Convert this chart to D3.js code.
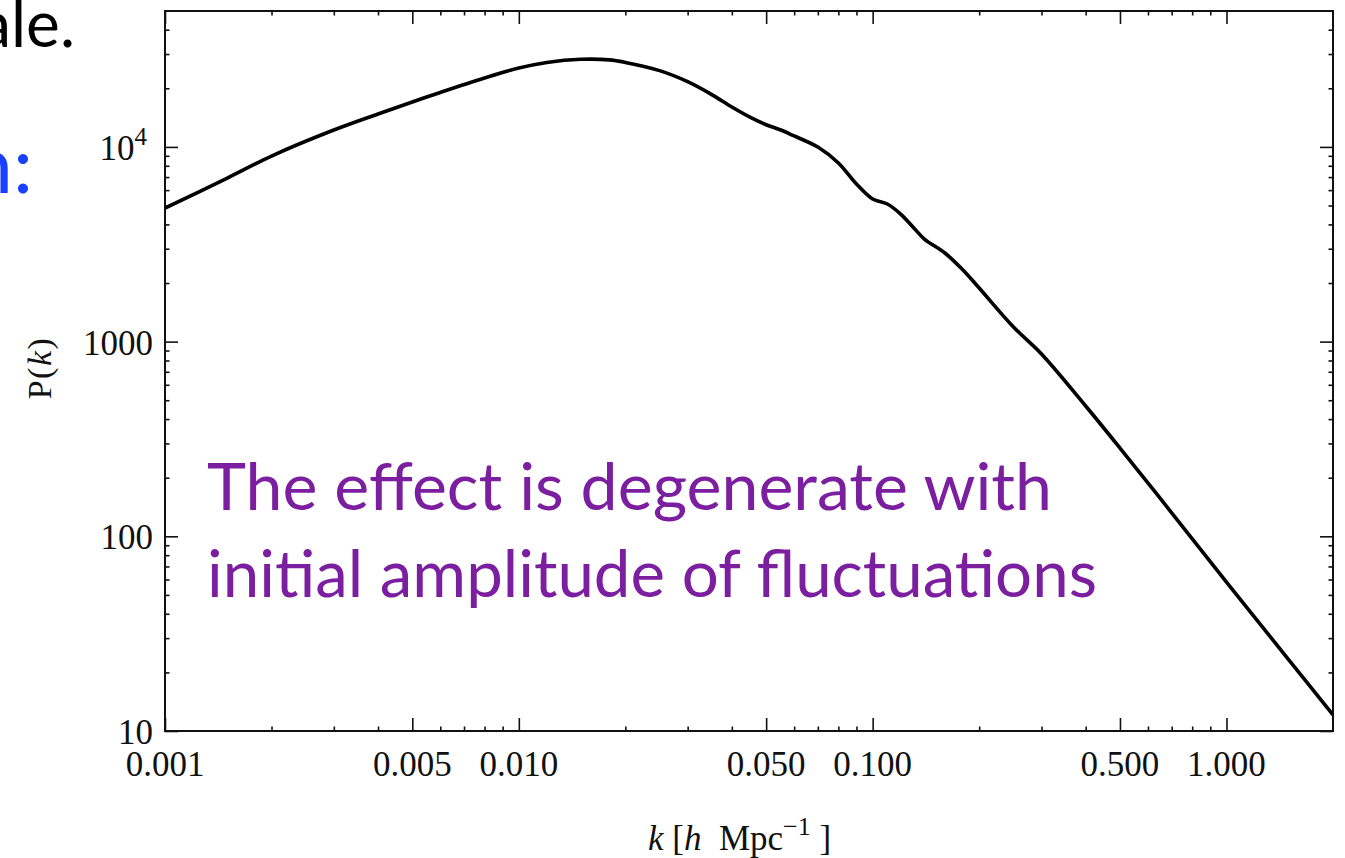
<!DOCTYPE html>
<html>
<head>
<meta charset="utf-8">
<script src="https://cdn.jsdelivr.net/npm/d3@7"></script>
<style>
  html, body { margin: 0; padding: 0; background: #fff; }
  svg { display: block; }
  text { white-space: pre; }
</style>
</head>
<body>
<svg id="chart" width="1345" height="858"></svg>
<script>
// Linear matter power spectrum P(k)
const kValues = [0.001, 0.0015, 0.002, 0.003, 0.004, 0.005, 0.006, 0.008, 0.01, 0.012,
  0.015, 0.018, 0.02, 0.025, 0.03, 0.035, 0.04, 0.045, 0.05, 0.055,
  0.06, 0.07, 0.08, 0.09, 0.1, 0.11, 0.12, 0.13, 0.14, 0.16,
  0.18, 0.2, 0.25, 0.3, 0.4, 0.5, 0.7, 1.0, 1.5, 2.0];
const pValues = [4850, 6920, 8980, 12210, 14760, 17010, 19050, 22590, 25420, 27160,
  28180, 27990, 27160, 24660, 21630, 18620, 16030, 14220, 13000, 12210,
  11380, 9980, 8270, 6450, 5400, 5090, 4520, 3880, 3365, 2851,
  2333, 1884, 1189, 864, 467, 284, 132, 58.2, 23.2, 12.1];

const xMajorTicks = [0.001, 0.005, 0.01, 0.05, 0.1, 0.5, 1];
const xTickLabels = ["0.001", "0.005", "0.010", "0.050", "0.100", "0.500", "1.000"];
const yMajorTicks = [10, 100, 1000, 10000];
const yTickLabels = ["10", "100", "1000", "10"];
const yTickExponents = ["", "", "", "4"];

const annotationLines = ["The effect is degenerate with", "initial amplitude of fluctuations"];

const svg = d3.select("#chart");
const W = 1345, H = 858;
const plot = { left: 165, right: 1333, top: 11, bottom: 731 };

svg.append("rect").attr("width", W).attr("height", H).attr("fill", "#fff");

const x = d3.scaleLog().domain([0.001, 2]).range([plot.left, plot.right]);
const y = d3.scaleLog().domain([10, 49900]).range([plot.bottom, plot.top]);

// minor ticks: 2..9 times each decade, skipping the majors
function minorTicks(domain, majors) {
  const out = [];
  for (let d = 1e-3; d <= 1e5; d *= 10) {
    for (let m = 2; m <= 9; m++) {
      const v = +(m * d).toPrecision(6);
      if (v > domain[0] && v < domain[1] && !majors.some(t => Math.abs(t - v) / v < 1e-6)) out.push(v);
    }
  }
  return out;
}
const xMinor = minorTicks(x.domain(), xMajorTicks);
const yMinor = minorTicks(y.domain(), yMajorTicks);

const MAJ = 13, MIN = 4.5;
const axisStyle = g => {
  g.select(".domain").remove();
  g.selectAll(".tick line").attr("stroke", "#111").attr("stroke-width", 1.6);
  g.selectAll(".tick text").remove();
};

// bottom and top ticks, pointing into the plot
svg.append("g").attr("transform", `translate(0,${plot.bottom})`)
  .call(d3.axisBottom(x).tickValues(xMajorTicks).tickSize(-MAJ)).call(axisStyle);
svg.append("g").attr("transform", `translate(0,${plot.bottom})`)
  .call(d3.axisBottom(x).tickValues(xMinor).tickSize(-MIN)).call(axisStyle);
svg.append("g").attr("transform", `translate(0,${plot.top})`)
  .call(d3.axisTop(x).tickValues(xMajorTicks).tickSize(-MAJ)).call(axisStyle);
svg.append("g").attr("transform", `translate(0,${plot.top})`)
  .call(d3.axisTop(x).tickValues(xMinor).tickSize(-MIN)).call(axisStyle);

// left and right ticks
svg.append("g").attr("transform", `translate(${plot.left},0)`)
  .call(d3.axisLeft(y).tickValues(yMajorTicks).tickSize(-MAJ)).call(axisStyle);
svg.append("g").attr("transform", `translate(${plot.left},0)`)
  .call(d3.axisLeft(y).tickValues(yMinor).tickSize(-MIN)).call(axisStyle);
svg.append("g").attr("transform", `translate(${plot.right},0)`)
  .call(d3.axisRight(y).tickValues(yMajorTicks).tickSize(-MAJ)).call(axisStyle);
svg.append("g").attr("transform", `translate(${plot.right},0)`)
  .call(d3.axisRight(y).tickValues(yMinor).tickSize(-MIN)).call(axisStyle);

// frame
svg.append("rect")
  .attr("x", plot.left).attr("y", plot.top)
  .attr("width", plot.right - plot.left).attr("height", plot.bottom - plot.top)
  .attr("fill", "none").attr("stroke", "#111").attr("stroke-width", 2);

// tick labels
const serif = "'Liberation Serif', 'Times New Roman', serif";
svg.append("g").selectAll("text").data(xMajorTicks).join("text")
  .attr("x", d => x(d)).attr("y", plot.bottom + 45)
  .attr("text-anchor", "middle")
  .attr("font-family", serif).attr("font-size", 35).attr("fill", "#111")
  .text((d, i) => xTickLabels[i]);

const yl = svg.append("g").selectAll("text").data(yMajorTicks).join("text")
  .attr("x", plot.left - 12).attr("y", d => y(d) + 13)
  .attr("text-anchor", "end")
  .attr("font-family", serif).attr("font-size", 35).attr("fill", "#111");
yl.append("tspan").text((d, i) => yTickLabels[i]);
yl.filter((d, i) => yTickExponents[i] !== "")
  .attr("x", plot.left - 18)
  .append("tspan").attr("dy", -15).attr("font-size", 25)
  .text((d, i) => yTickExponents[yMajorTicks.indexOf(d)]);

// axis titles
const yTitle = svg.append("text")
  .attr("transform", `translate(51,368) rotate(-90)`)
  .attr("text-anchor", "middle")
  .attr("font-family", serif).attr("font-size", 34).attr("fill", "#111")
  .attr("letter-spacing", 1.5);
yTitle.append("tspan").text("P(");
yTitle.append("tspan").attr("font-style", "italic").text("k");
yTitle.append("tspan").text(")");

const xTitle = svg.append("text")
  .attr("x", 648).attr("y", 850)
  .attr("font-family", serif).attr("font-size", 35).attr("fill", "#111");
xTitle.append("tspan").attr("font-style", "italic").text("k");
xTitle.append("tspan").text(" [");
xTitle.append("tspan").attr("font-style", "italic").text("h");
xTitle.append("tspan").text("  Mpc");
xTitle.append("tspan").attr("dy", -15).attr("font-size", 26).text("\u22121");
xTitle.append("tspan").attr("dy", 15).text(" ]");

// power spectrum curve
svg.append("clipPath").attr("id", "plot-clip")
  .append("rect").attr("x", plot.left).attr("y", plot.top)
  .attr("width", plot.right - plot.left).attr("height", plot.bottom - plot.top);

const line = d3.line()
  .x(d => x(d[0])).y(d => y(d[1]))
  .curve(d3.curveCatmullRom.alpha(0.5));

svg.append("path")
  .datum(kValues.map((k, i) => [k, pValues[i]]))
  .attr("clip-path", "url(#plot-clip)")
  .attr("d", line)
  .attr("fill", "none").attr("stroke", "#000")
  .attr("stroke-width", 3.6).attr("stroke-linejoin", "round");

// annotation
const sans = "Lato, 'Open Sans', sans-serif";
svg.append("g").selectAll("text").data(annotationLines).join("text")
  .attr("x", 207).attr("y", (d, i) => 510 + i * 87)
  .attr("font-family", sans).attr("font-size", 66).attr("fill", "#7b1fa0")
  .attr("textLength", (d, i) => i === 0 ? 845 : 890)
  .attr("lengthAdjust", "spacingAndGlyphs")
  .text(d => d);

// slide text at the left edge
svg.append("text").attr("x", 75).attr("y", 47).attr("text-anchor", "end")
  .attr("font-family", sans).attr("font-size", 64).attr("fill", "#000")
  .text("ale.");
svg.append("text").attr("x", 33).attr("y", 193).attr("text-anchor", "end")
  .attr("font-family", sans).attr("font-size", 80).attr("fill", "#1a40ff")
  .text("n:");
</script>
</body>
</html>
